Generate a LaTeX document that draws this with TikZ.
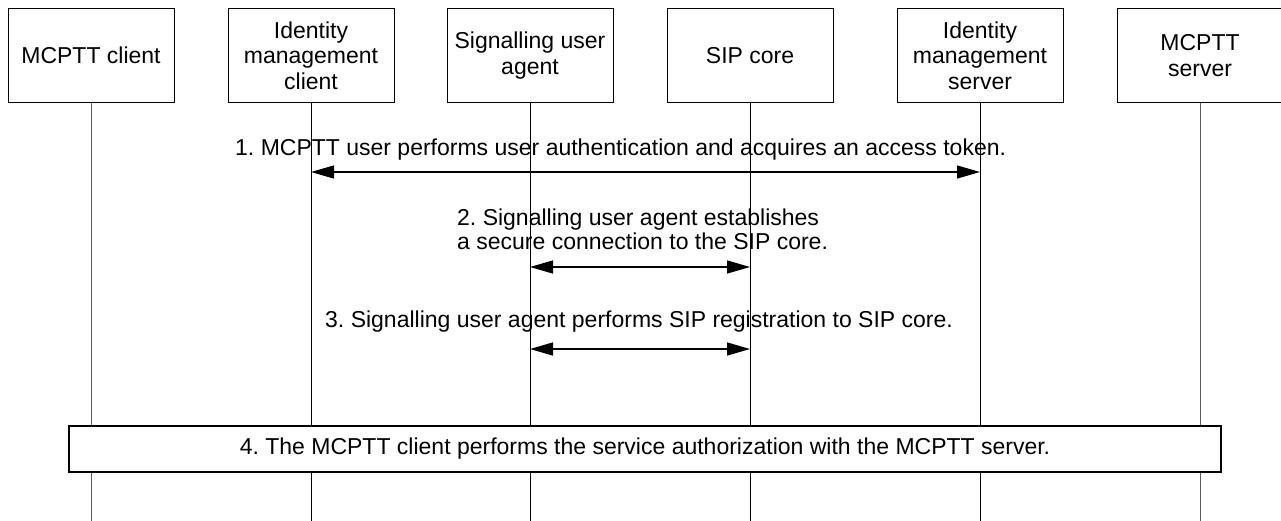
\documentclass[tikz,border=0pt]{standalone}
\usepackage{fontspec}
\setmainfont{Liberation Sans}
\usetikzlibrary{arrows.meta}
\begin{document}
\frenchspacing
\begin{tikzpicture}[x=1pt,y=-1pt,
  every node/.style={font=\frenchspacing\fontsize{23}{25.5}\selectfont, inner sep=0pt},
  actor/.style={draw=black, line width=1pt, minimum width=166pt, minimum height=94pt, align=center, fill=white},
  life/.style={line width=1pt, draw=black},
  lifegray/.style={line width=1pt, draw=black!65},
  msg/.style={line width=1.3pt, {Triangle[length=23pt,width=13pt]}-{Triangle[length=23pt,width=13pt]}},
  lbl/.style={anchor=base west, align=left, font=\frenchspacing\fontsize{23}{24}\selectfont},
  stepbar/.style={draw=black, line width=1.2pt, fill=white, minimum width=1152pt, minimum height=46pt},
]
\useasboundingbox (0,0) rectangle (1281,520);
% actors
\node[actor] (a1) at (91,55.5) {MCPTT client};
\node[actor] (a2) at (311,55.5) {Identity\\management\\client};
\node[actor] (a3) at (530,55.5) {Signalling user\\agent};
\node[actor] (a4) at (750,55.5) {SIP core};
\node[actor] (a5) at (980,55.5) {Identity\\management\\server};
\node[actor] (a6) at (1200,55.5) {MCPTT\\server};
% lifeline ends
\coordinate (e1) at (91,521);
\coordinate (e2) at (311,521);
\coordinate (e3) at (530,521);
\coordinate (e4) at (750,521);
\coordinate (e5) at (980,521);
\coordinate (e6) at (1200,521);
\draw[lifegray] (a1.south) -- (e1);
\draw[life] (a2.south) -- (e2);
\draw[life] (a3.south) -- (e3);
\draw[life] (a4.south) -- (e4);
\draw[life] (a5.south) -- (e5);
\draw[lifegray] (a6.south) -- (e6);
% message 1
\coordinate (m1a) at (311,172);
\coordinate (m1b) at (980,172);
\draw[msg] (m1a) -- (m1b);
\node[lbl] (t1) at (235,155) {1. MCPTT user performs user authentication and acquires an access token.};
% message 2
\coordinate (m2a) at (530,267);
\coordinate (m2b) at (750,267);
\draw[msg] (m2a) -- (m2b);
\node[lbl] (t2) at (457,249) {2. Signalling user agent establishes\\a secure connection to the SIP core.};
% message 3
\coordinate (m3a) at (530,349);
\coordinate (m3b) at (750,349);
\draw[msg] (m3a) -- (m3b);
\node[lbl] (t3) at (325,327) {3. Signalling user agent performs SIP registration to SIP core.};
% step 4
\node[stepbar] (s4) at (645,449) {4. The MCPTT client performs the service authorization with the MCPTT server.};
\end{tikzpicture}
\end{document}
